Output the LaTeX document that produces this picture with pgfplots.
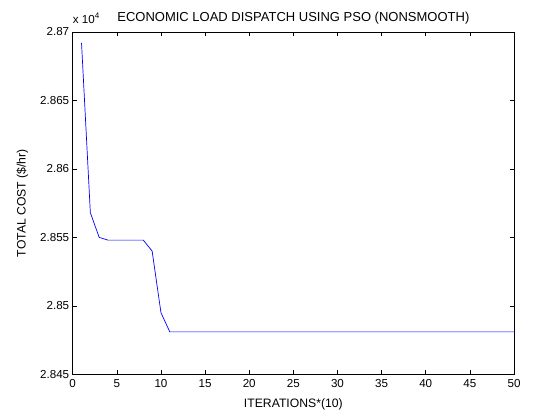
\documentclass[border=0pt]{standalone}
\usepackage{pgfplots}
\pgfplotsset{compat=1.18}
\usepackage{fontspec}
\setmainfont{Liberation Sans}

\begin{document}
\begin{tikzpicture}[x=1pt,y=1pt]
\path (0,0) rectangle (534,412);
\begin{axis}[at={(72.7pt,37.7pt)}, anchor=south west,
        scale only axis, width=441.3pt, height=342.3pt,
        clip=false,
        tick label style={font=\fontsize{11.6}{13}\selectfont},
        label style={font=\fontsize{12.2}{14}\selectfont},
        title style={font=\fontsize{13}{15}\selectfont, yshift=-2pt},
        title={ECONOMIC LOAD DISPATCH USING PSO (NONSMOOTH)},
        ylabel={TOTAL COST (\$/hr)},
        xlabel={ITERATIONS*(10)},
        xticklabel style={yshift=-2pt},
        xlabel style={yshift=-4pt},
        ylabel style={yshift=5pt},
        xmin=0, xmax=50, ymin=28450, ymax=28700,
        xtick={0,5,...,50},
        ytick={28450,28500,28550,28600,28650,28700},
        yticklabels={2.845,2.85,2.855,2.86,2.865,2.87},
        /pgf/number format/assume math mode=true,
        tick align=inside, tick pos=both,
        major tick length=4pt,
        tick style={black, line width=0.6pt},
        axis line style={black, line width=0.9pt},
        scaled y ticks=false]
     \addplot[blue, line width=0.7pt, mark=none] coordinates {
       (1,28692) (2,28568) (3,28550) (4,28548) (5,28548) (6,28548)
       (7,28548) (8,28548) (9,28540) (10,28495) (11,28481) (12,28481)
       (20,28481) (30,28481) (40,28481) (50,28481)};
     \node[anchor=base west, inner sep=0pt, font=\fontsize{11.6}{13}\selectfont]
       at ([yshift=8.7pt]rel axis cs:0,1) {x 10\textsuperscript{4}};
\end{axis}
\end{tikzpicture}
\end{document}
